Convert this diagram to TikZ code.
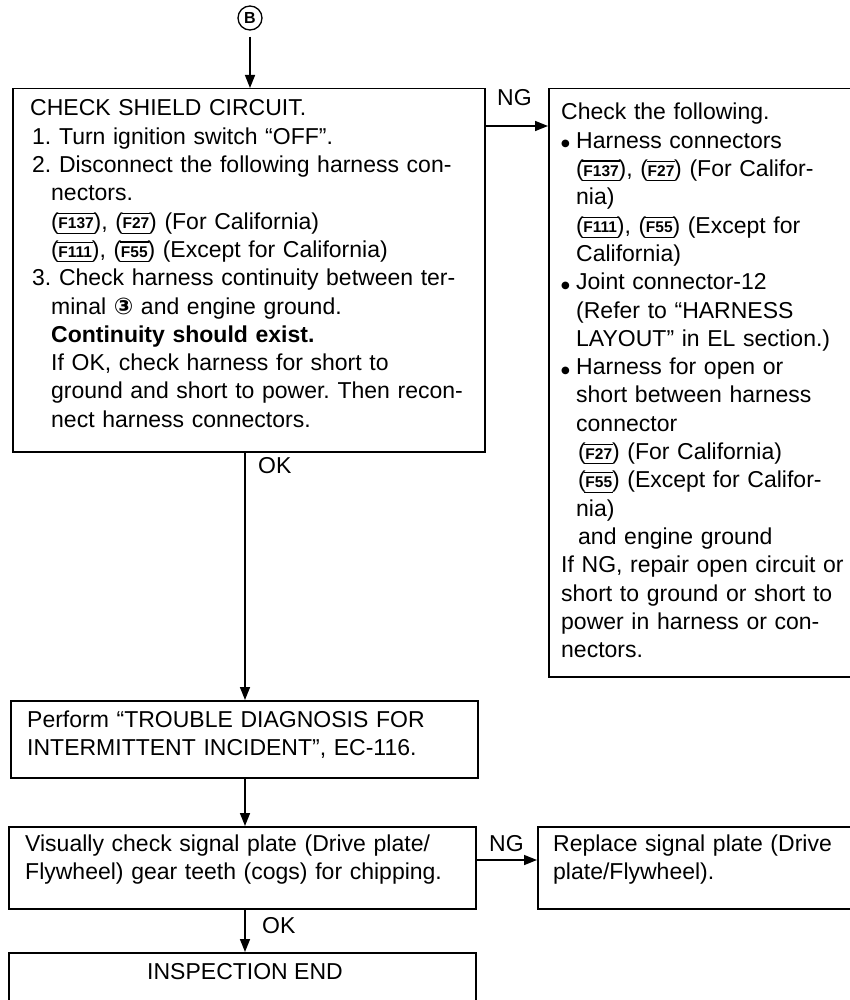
\documentclass[tikz,border=0pt]{standalone}
\usepackage{fontspec}
\setmainfont{Liberation Sans}
\newfontfamily\dejavu{DejaVu Sans}
\usetikzlibrary{arrows.meta}
\frenchspacing
\newcommand\conn[1]{\mbox{\fontsize{23}{23}\selectfont(\kern-0.06em\raisebox{-4.8pt}{\vbox{\hrule height 1.1pt\kern3.9pt\hbox{\kern1pt\fontsize{15.5}{16}\selectfont\bfseries #1\kern1pt}\kern3.9pt\hrule height 1.1pt}}\kern-0.05em)}}
\newcommand\bul{\makebox[15pt][l]{\raisebox{1.5pt}{\dejavu\fontsize{10}{10}\selectfont ●}}}
\newcommand\ind[1]{\hspace*{#1pt}}
\begin{document}
\frenchspacing
\begin{tikzpicture}[x=1pt,y=-1pt,
  box/.style={draw, line width=1.5pt, inner sep=0pt, anchor=north west},
  txt/.style={anchor=base west, inner sep=0pt, align=left, text width=#1, font=\fontsize{23}{28.3}\selectfont\frenchspacing},
  arr/.style={line width=1.5pt, -{Triangle[length=13pt,width=10pt]}},
  lbl/.style={inner sep=0pt, anchor=base west, font=\fontsize{23}{26}\selectfont}]
\clip (0,0) rectangle (850,1000);
\fill[white] (0,0) rectangle (850,1000);
% nodes
\node[circle, draw, line width=1.3pt, inner sep=0pt, minimum size=24pt, font=\fontsize{16}{16}\selectfont\bfseries] (B) at (250,18) {B};
\node[box, minimum width=472pt, minimum height=363pt] (main) at (12,88) {};
\node[box, minimum width=330pt, minimum height=588pt] (rbox) at (548,88) {};
\node[box, minimum width=467pt, minimum height=77pt] (perform) at (10,700) {};
\node[box, minimum width=467pt, minimum height=82pt] (visual) at (8,826) {};
\node[box, minimum width=330pt, minimum height=82pt] (replace) at (537,826) {};
\node[box, minimum width=467pt, minimum height=80pt] (endbox) at (8,952) {};
% texts
\node[txt=460pt] (maintext) at (30,116) {CHECK SHIELD CIRCUIT.\\
\ind{2}1. Turn ignition switch “OFF”.\\
\ind{2}2. Disconnect the following harness con-\\
\ind{21}nectors.\\
\ind{21}\conn{F137}, \conn{F27} (For California)\\
\ind{21}\conn{F111}, \conn{F55} (Except for California)\\
\ind{2}3. Check harness continuity between ter-\\
\ind{21}minal {\dejavu\bfseries ③} and engine ground.\\
\ind{21}\textbf{Continuity should exist.}\\
\ind{21}If OK, check harness for short to\\
\ind{21}ground and short to power. Then recon-\\
\ind{21}nect harness connectors.};
\node[txt=300pt] (rtext) at (561,120) {Check the following.\\
\bul Harness connectors\\
\ind{15}\conn{F137}, \conn{F27} (For Califor-\\
\ind{15}nia)\\
\ind{15}\conn{F111}, \conn{F55} (Except for\\
\ind{15}California)\\
\bul Joint connector-12\\
\ind{15}(Refer to “HARNESS\\
\ind{15}LAYOUT” in EL section.)\\
\bul Harness for open or\\
\ind{15}short between harness\\
\ind{15}connector\\
\ind{17}\conn{F27} (For California)\\
\ind{17}\conn{F55} (Except for Califor-\\
\ind{15}nia)\\
\ind{17}and engine ground\\
If NG, repair open circuit or\\
short to ground or short to\\
power in harness or con-\\
nectors.};
\node[txt=450pt] (ptext) at (27,727) {Perform “TROUBLE DIAGNOSIS FOR\\INTERMITTENT INCIDENT”, EC-116.};
\node[txt=450pt] (vtext) at (25,851) {Visually check signal plate (Drive plate/\\Flywheel) gear teeth (cogs) for chipping.};
\node[txt=300pt] (rptext) at (553,851) {Replace signal plate (Drive\\plate/Flywheel).};
\node[inner sep=0pt, anchor=base, font=\fontsize{23}{26}\selectfont] (etext) at (245,979) {INSPECTION END};
% labels
\node[lbl] (ng1) at (497,106) {NG};
\node[lbl] (ok1) at (258,473) {OK};
\node[lbl] (ng2) at (489,851) {NG};
\node[lbl] (ok2) at (262,933) {OK};
% connectors
\coordinate (y1) at (0,126);
\coordinate (y2) at (0,860);
\coordinate (xv) at (245,0);
\draw[arr, shorten <=6pt] (B.south) -- (B.south |- main.north);
\draw[arr] (main.east |- y1) -- (rbox.west |- y1);
\draw[arr] (xv |- main.south) -- (xv |- perform.north);
\draw[arr] (xv |- perform.south) -- (xv |- visual.north);
\draw[arr] (visual.east |- y2) -- (replace.west |- y2);
\draw[arr] (xv |- visual.south) -- (xv |- endbox.north);
\end{tikzpicture}
\end{document}
